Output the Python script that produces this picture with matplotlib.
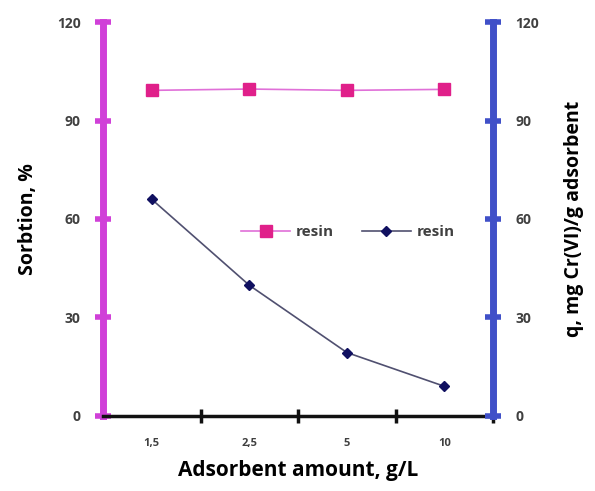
import numpy as np
import matplotlib.pyplot as plt

plt.rcParams['font.family'] = ['Open Sans', 'DejaVu Sans']

categories = ['1,5', '2,5', '5', '10']
sorption = [99.2, 99.6, 99.2, 99.5]
q_values = [66.0, 39.8, 19.3, 9.0]

fig = plt.figure(figsize=(5.95, 4.91), dpi=100)
ax = fig.add_axes([0.173, 0.153, 0.656, 0.802])
ax2 = ax.twinx()

x = np.arange(len(categories))
ax.plot(x, sorption, '-', color='#e070d8', lw=1.2, marker='s', ms=8,
        mfc='#e0208a', mec='#e0208a', label='resin', zorder=3)
ax2.plot(x, q_values, '-', color='#505070', lw=1.2, marker='D', ms=5.5,
         mfc='#101060', mec='#101060', label='resin', zorder=3)

ax.set_xlim(-0.5, 3.5)
ax.set_ylim(0, 120)
ax2.set_ylim(0, 120)
ax.set_yticks([0, 30, 60, 90, 120])
ax2.set_yticks([0, 30, 60, 90, 120])
ax.set_xticks(x)
ax.set_xticklabels(categories, fontsize=8, fontweight='bold', color='#404040')
ax.set_xticks([0.5, 1.5, 2.5, 3.5], minor=True)

for a in (ax, ax2):
    a.spines['top'].set_visible(False)
ax.spines['right'].set_visible(False)
ax.spines['left'].set_color('#d040d8')
ax.spines['left'].set_linewidth(5)
ax.spines['bottom'].set_color('#111111')
ax.spines['bottom'].set_linewidth(2.5)
ax2.spines['left'].set_visible(False)
ax2.spines['bottom'].set_visible(False)
ax2.spines['right'].set_color('#4050c8')
ax2.spines['right'].set_linewidth(5)

ax.tick_params(axis='x', which='major', length=0, pad=16)
ax.tick_params(axis='x', which='minor', length=10, width=2.5, direction='inout', color='#111111')
ax.tick_params(axis='y', length=12, width=4, direction='inout', color='#d040d8',
               labelsize=10, labelcolor='#404040', pad=10)
ax2.tick_params(axis='y', length=12, width=4, direction='inout', color='#4050c8',
                labelsize=10, labelcolor='#404040', pad=10)
for lab in ax.get_yticklabels() + ax2.get_yticklabels():
    lab.set_fontweight('bold')

ax.set_ylabel('Sorbtion, %', fontsize=14, fontweight='bold', labelpad=14)
ax2.set_ylabel('q, mg Cr(VI)/g adsorbent', fontsize=14, fontweight='bold', labelpad=18)
ax.set_xlabel('Adsorbent amount, g/L', fontsize=15, fontweight='bold', labelpad=8)

h1, l1 = ax.get_legend_handles_labels()
h2, l2 = ax2.get_legend_handles_labels()
leg = ax2.legend(h1 + h2, l1 + l2, loc='center', bbox_to_anchor=(0.628, 0.467), ncol=2,
                 frameon=False, fontsize=11, handlelength=3.2, columnspacing=1.8,
                 handletextpad=0.4)
for t in leg.get_texts():
    t.set_color('#404040')
    t.set_fontweight('bold')

fig.savefig('out.png', dpi=100)
